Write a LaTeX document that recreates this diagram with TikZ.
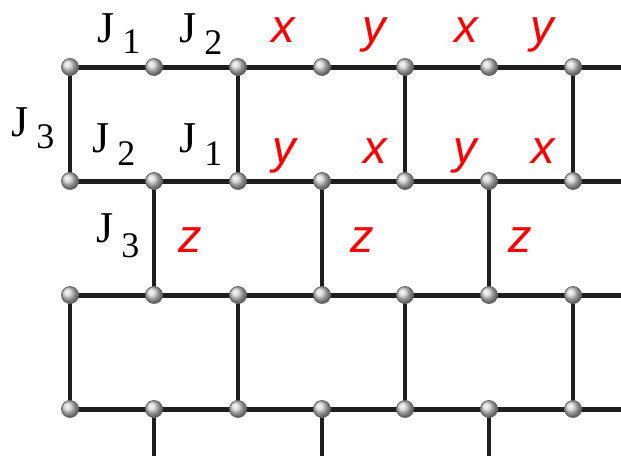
\documentclass[tikz,border=0pt]{standalone}
\usepackage{fontspec}
\setmainfont{Liberation Serif}
\newfontfamily\lsans{Liberation Sans}
\usetikzlibrary{backgrounds}
\newcommand{\Jlab}[2]{{\fontsize{44}{44}\selectfont J}\hspace{8pt}\raisebox{-#2pt}{\fontsize{36}{36}\selectfont #1}}
\begin{document}
\begin{tikzpicture}[x=1pt,y=-1pt,
  site/.style={circle,inner sep=0pt,minimum size=17pt,shading=ball,ball color=gray!35,draw=black!60,line width=0.8pt},
  bond/.style={line width=5pt,draw=black!88},
  vbond/.style={line width=4.2pt,draw=black!88},
  redlab/.style={text=red,font=\lsans\itshape\fontsize{47}{47}\selectfont,anchor=base,inner sep=0pt},
  jlab/.style={anchor=base west,inner sep=0pt}]
\useasboundingbox (0,0) rectangle (621,458);
% sites
\foreach \r/\y in {0/67,1/181,2/295,3/409}{
  \foreach \c/\x in {0/70,1/154,2/238,3/322,4/405,5/489,6/573}{
    \node[site] (n\r\c) at (\x,\y) {};
  }
  \coordinate (e\r) at (621,\y);
}
\coordinate (s1) at (154,456);
\coordinate (s3) at (322,456);
\coordinate (s5) at (489,456);
% bonds
\begin{scope}[on background layer]
  \fill[white] (0,0) rectangle (621,458);
  \foreach \r in {0,1,2,3}{
    \foreach \c [evaluate=\c as \d using int(\c+1)] in {0,...,5}{
      \draw[bond] (n\r\c.center) -- (n\r\d.center);
    }
    \draw[bond] (n\r6.center) -- (e\r);
  }
  \foreach \c in {0,2,4,6}{
    \draw[vbond] (n0\c.center) -- (n1\c.center);
    \draw[vbond] (n2\c.center) -- (n3\c.center);
  }
  \foreach \c in {1,3,5}{
    \draw[vbond] (n1\c.center) -- (n2\c.center);
    \draw[vbond] (n3\c.center) -- (s\c);
  }
\end{scope}
% coupling labels
\node[jlab] (j1a) at (97,42) {\Jlab{1}{11}};
\node[jlab] (j2a) at (179,42) {\Jlab{2}{12}};
\node[jlab] (j3a) at (11,136) {\Jlab{3}{12}};
\node[jlab] (j2b) at (92,152) {\Jlab{2}{13}};
\node[jlab] (j1b) at (179,152) {\Jlab{1}{13}};
\node[jlab] (j3b) at (96,242) {\Jlab{3}{15}};
% red labels
\node[redlab] (xa) at (283,42) {x};
\node[redlab] (ya) at (374,42) {y};
\node[redlab] (xb) at (466,42) {x};
\node[redlab] (yb) at (542,42) {y};
\node[redlab] (yc) at (284,163) {y};
\node[redlab] (xc) at (375,163) {x};
\node[redlab] (yd) at (465,163) {y};
\node[redlab] (xd) at (543,163) {x};
\node[redlab] (za) at (190,252) {z};
\node[redlab] (zb) at (362,252) {z};
\node[redlab] (zc) at (520,252) {z};
\end{tikzpicture}
\end{document}
